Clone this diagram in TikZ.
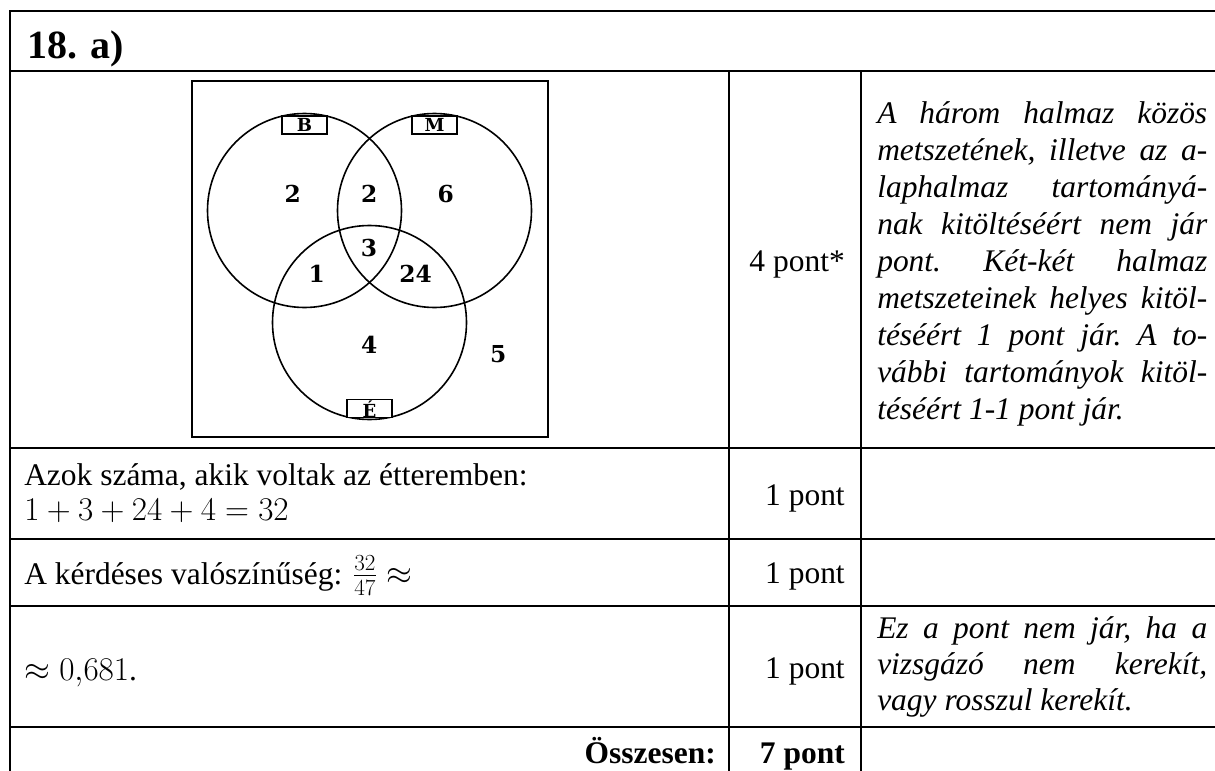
\documentclass[tikz,border=0pt]{standalone}
\usepackage{amsmath}
\usepackage{fontspec}
\setmainfont{Liberation Serif}
\newfontfamily\vennfont{DejaVu Serif}

\begin{document}
\begin{tikzpicture}[x=0.75pt,y=-0.75pt,
  rule/.style={line width=1.5pt},
  vennframe/.style={line width=1pt},
  setcircle/.style={line width=1.2pt},
  setbox/.style={draw,line width=1pt,fill=white,minimum width=33.75pt,minimum height=13.5pt,inner sep=0pt},
  setname/.style={inner sep=0pt,font=\vennfont\bfseries\fontsize{13.5}{15}\selectfont},
  count/.style={inner sep=0pt,font=\vennfont\bfseries\fontsize{17.5}{20}\selectfont},
  body/.style={inner sep=0pt,font=\fontsize{23.6}{27.75}\selectfont},
  bodybold/.style={body,font=\fontsize{23.6}{27.75}\selectfont\bfseries},
  head/.style={inner sep=0pt,font=\fontsize{30}{36}\selectfont\bfseries},
  remark/.style={inner sep=0pt,anchor=base west}]

\useasboundingbox (0,0) rectangle (1215,771);
\fill[white] (0,0) rectangle (1215,771);

% table rules
\draw[rule] (1216,11) -- (10,11) -- (10,772);
\foreach \yy in {71,447.5,539,605.5,727}
  \draw[rule] (10,\yy) -- (1216,\yy);
\draw[rule] (729,71) -- (729,772);
\draw[rule] (861,71) -- (861,772);

% header
\node[head,anchor=base west] (title) at (27,58) {18. a)};

% Venn diagram
\draw[vennframe] (192,81) rectangle (548,437);
\draw[setcircle] (304.5,210.5) circle[radius=97];
\draw[setcircle] (434.5,210.5) circle[radius=97];
\draw[setcircle] (369.5,322.5) circle[radius=97];

\node[setbox] (boxB) at (304.5,125) {};
\node[setbox] (boxM) at (434.5,125) {};
\node[setbox] (boxE) at (369.5,408.5) {};
\node[setname,anchor=base] (nameB) at (304.5,131) {B};
\node[setname,anchor=base] (nameM) at (434.5,131) {M};
\node[setname,anchor=base] (nameE) at (369.5,417) {É};

\node[count] (cB)   at (292.7,194.3) {2};
\node[count] (cBM)  at (369.3,194.3) {2};
\node[count] (cM)   at (445.7,194.3) {6};
\node[count] (cBME) at (369.0,248.3) {3};
\node[count] (cBE)  at (316.7,274.3) {1};
\node[count] (cME)  at (415.7,274.3) {24};
\node[count] (cE)   at (369.3,345.3) {4};
\node[count] (cout) at (498.3,354.3) {5};

% points column
\node[body,anchor=base east] (p1) at (845,271.7) {4 pont*};
\node[body,anchor=base east] (p2) at (845,505) {1 pont};
\node[body,anchor=base east] (p3) at (845,583) {1 pont};
\node[body,anchor=base east] (p4) at (845,678) {1 pont};
\node[bodybold,anchor=base east] (p5) at (845,763) {7 pont};

% solution column
\node[body,anchor=base west] (s1) at (24,485) {Azok száma, akik voltak az étteremben:};
\node[body,anchor=base west] (s1m) at (24,520) {$1+3+24+4=32$};
\node[body,anchor=base west] (s2) at (24,584) {A kérdéses valószínűség: $\tfrac{32}{47}\approx$};
\node[body,anchor=base west] (s3) at (24,680) {$\approx 0{,}681$.};
\node[bodybold,anchor=base east] (total) at (716,763) {Összesen:};

% remarks column
\node[remark] (r1) at (877,123.3) {\parbox[t]{247.5pt}{\fontsize{23.6}{27.75}\itshape\selectfont
  \hyphenpenalty=10000 \exhyphenpenalty=10000 \tolerance=10000 \frenchspacing
  A három halmaz közös\linebreak
  metszetének, illetve az a-\linebreak
  laphalmaz tartományá-\linebreak
  nak kitöltéséért nem jár\linebreak
  pont. Két-két halmaz\linebreak
  metszeteinek helyes kitöl-\linebreak
  téséért 1 pont jár. A to-\linebreak
  vábbi tartományok kitöl-\linebreak
  téséért 1-1 pont jár.}};

\node[remark] (r2) at (877,638) {\parbox[t]{247.5pt}{\fontsize{23.6}{27.3}\itshape\selectfont
  \hyphenpenalty=10000 \exhyphenpenalty=10000 \tolerance=10000 \frenchspacing
  Ez a pont nem jár, ha a\linebreak
  vizsgázó nem kerekít,\linebreak
  vagy rosszul kerekít.}};

\end{tikzpicture}
\end{document}
